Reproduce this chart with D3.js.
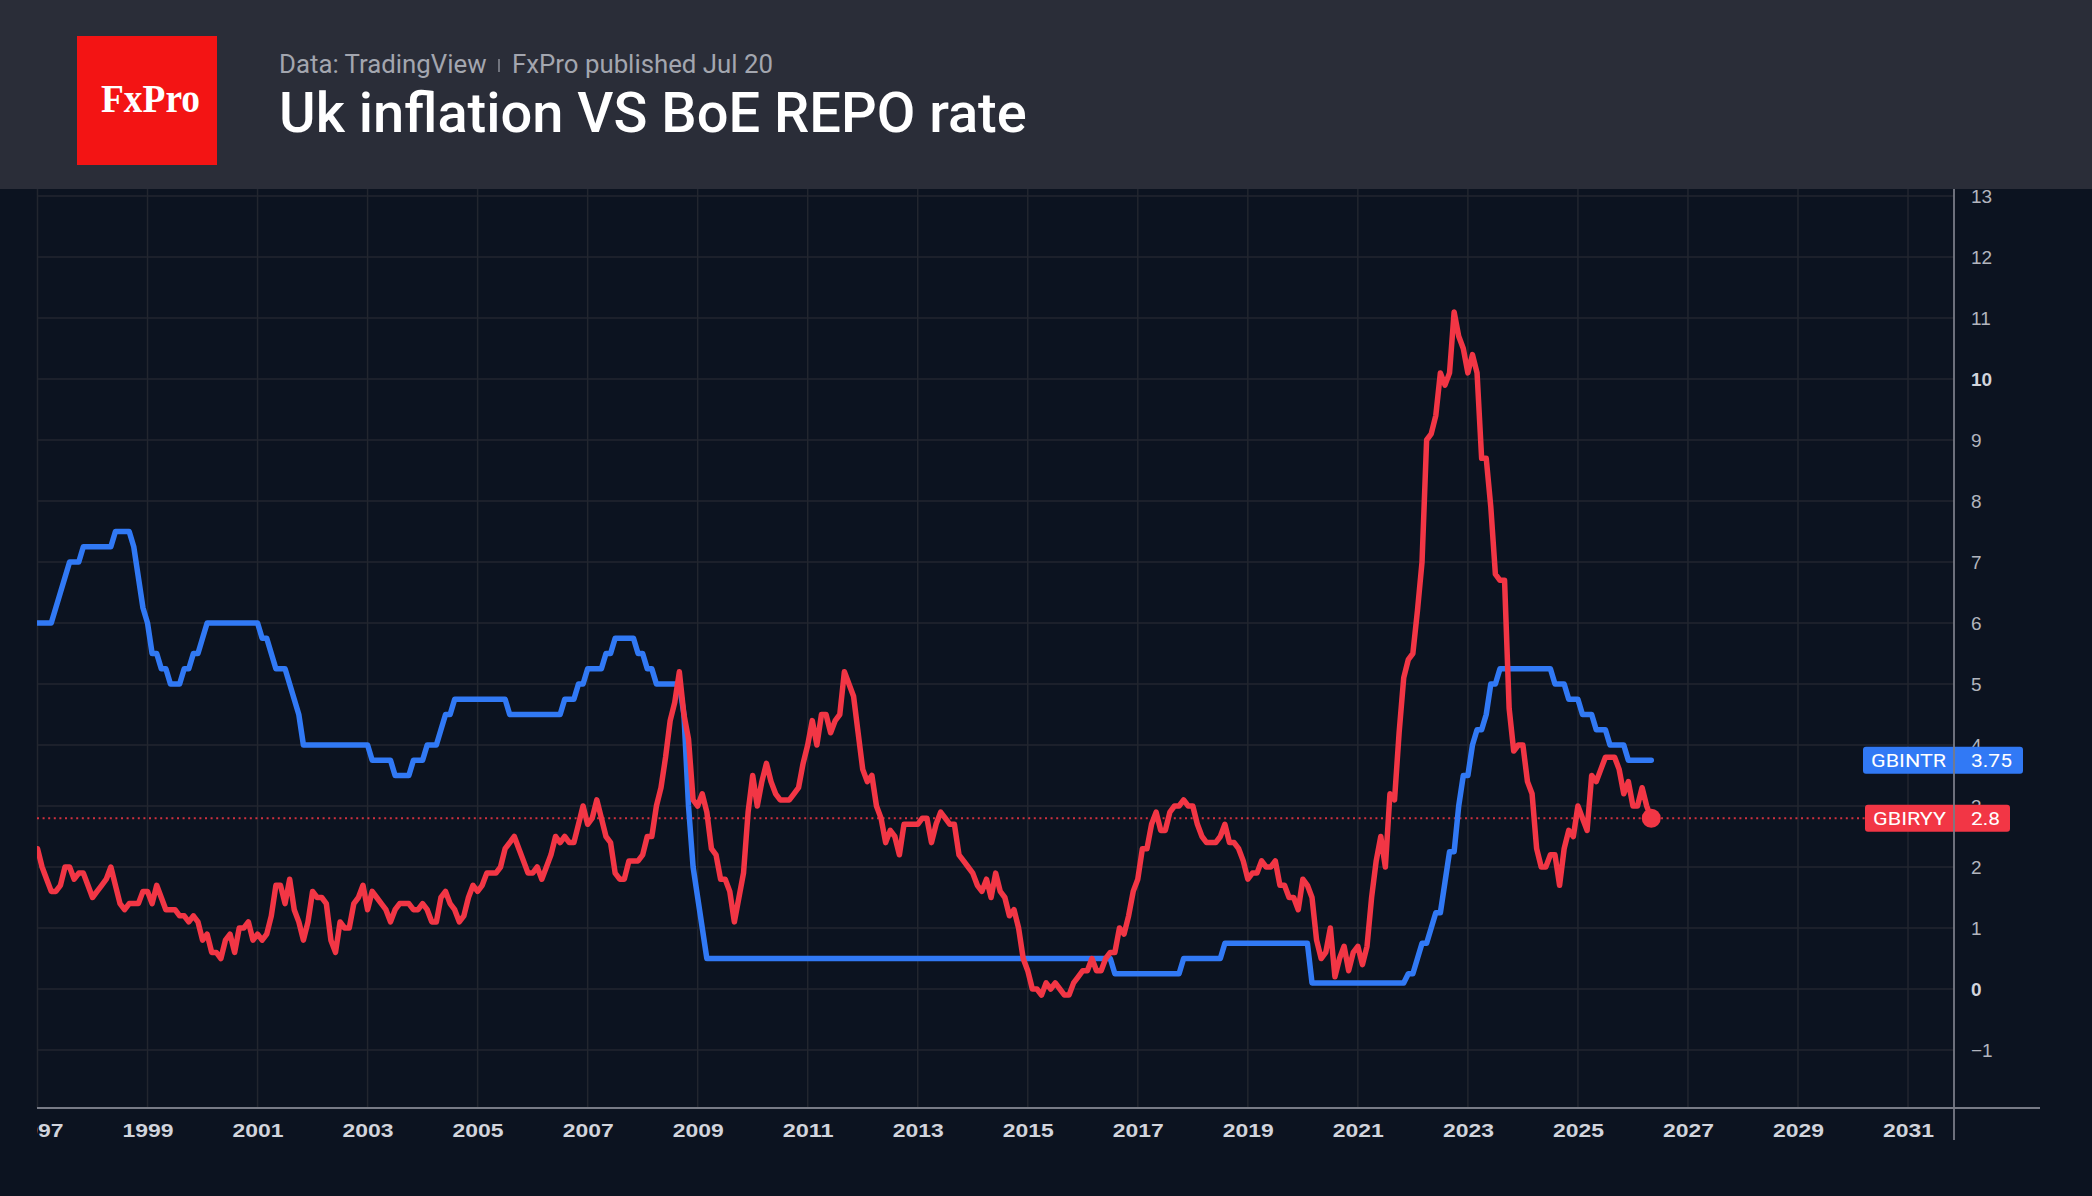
<!DOCTYPE html>
<html>
<head>
<meta charset="utf-8">
<script src="https://cdn.jsdelivr.net/npm/d3@7"></script>
<style>
  html, body { margin: 0; padding: 0; background: #0c1320; overflow: hidden; }
  svg { display: block; }
</style>
</head>
<body>
<script>
// monthly series, first value = Jan 1997
const startYear = 1997;

// BoE bank rate (GBINTR), one row per year
const boeRate = [
  6, 6, 6, 6, 6.25, 6.5, 6.75, 7, 7, 7, 7.25, 7.25,                 // 1997
  7.25, 7.25, 7.25, 7.25, 7.25, 7.5, 7.5, 7.5, 7.5, 7.25, 6.75, 6.25, // 1998
  6, 5.5, 5.5, 5.25, 5.25, 5, 5, 5, 5.25, 5.25, 5.5, 5.5,           // 1999
  5.75, 6, 6, 6, 6, 6, 6, 6, 6, 6, 6, 6,                            // 2000
  6, 5.75, 5.75, 5.5, 5.25, 5.25, 5.25, 5, 4.75, 4.5, 4, 4,         // 2001
  4, 4, 4, 4, 4, 4, 4, 4, 4, 4, 4, 4,                               // 2002
  4, 3.75, 3.75, 3.75, 3.75, 3.75, 3.5, 3.5, 3.5, 3.5, 3.75, 3.75,  // 2003
  3.75, 4, 4, 4, 4.25, 4.5, 4.5, 4.75, 4.75, 4.75, 4.75, 4.75,      // 2004
  4.75, 4.75, 4.75, 4.75, 4.75, 4.75, 4.75, 4.5, 4.5, 4.5, 4.5, 4.5, // 2005
  4.5, 4.5, 4.5, 4.5, 4.5, 4.5, 4.5, 4.75, 4.75, 4.75, 5, 5,        // 2006
  5.25, 5.25, 5.25, 5.25, 5.5, 5.5, 5.75, 5.75, 5.75, 5.75, 5.75, 5.5, // 2007
  5.5, 5.25, 5.25, 5, 5, 5, 5, 5, 5, 4.5, 3, 2,                     // 2008
  1.5, 1, 0.5, 0.5, 0.5, 0.5, 0.5, 0.5, 0.5, 0.5, 0.5, 0.5,         // 2009
  0.5, 0.5, 0.5, 0.5, 0.5, 0.5, 0.5, 0.5, 0.5, 0.5, 0.5, 0.5,       // 2010
  0.5, 0.5, 0.5, 0.5, 0.5, 0.5, 0.5, 0.5, 0.5, 0.5, 0.5, 0.5,       // 2011
  0.5, 0.5, 0.5, 0.5, 0.5, 0.5, 0.5, 0.5, 0.5, 0.5, 0.5, 0.5,       // 2012
  0.5, 0.5, 0.5, 0.5, 0.5, 0.5, 0.5, 0.5, 0.5, 0.5, 0.5, 0.5,       // 2013
  0.5, 0.5, 0.5, 0.5, 0.5, 0.5, 0.5, 0.5, 0.5, 0.5, 0.5, 0.5,       // 2014
  0.5, 0.5, 0.5, 0.5, 0.5, 0.5, 0.5, 0.5, 0.5, 0.5, 0.5, 0.5,       // 2015
  0.5, 0.5, 0.5, 0.5, 0.5, 0.5, 0.5, 0.25, 0.25, 0.25, 0.25, 0.25,  // 2016
  0.25, 0.25, 0.25, 0.25, 0.25, 0.25, 0.25, 0.25, 0.25, 0.25, 0.5, 0.5, // 2017
  0.5, 0.5, 0.5, 0.5, 0.5, 0.5, 0.5, 0.75, 0.75, 0.75, 0.75, 0.75,  // 2018
  0.75, 0.75, 0.75, 0.75, 0.75, 0.75, 0.75, 0.75, 0.75, 0.75, 0.75, 0.75, // 2019
  0.75, 0.75, 0.1, 0.1, 0.1, 0.1, 0.1, 0.1, 0.1, 0.1, 0.1, 0.1,     // 2020
  0.1, 0.1, 0.1, 0.1, 0.1, 0.1, 0.1, 0.1, 0.1, 0.1, 0.1, 0.25,      // 2021
  0.25, 0.5, 0.75, 0.75, 1, 1.25, 1.25, 1.75, 2.25, 2.25, 3, 3.5,   // 2022
  3.5, 4, 4.25, 4.25, 4.5, 5, 5, 5.25, 5.25, 5.25, 5.25, 5.25,      // 2023
  5.25, 5.25, 5.25, 5.25, 5.25, 5.25, 5.25, 5, 5, 5, 4.75, 4.75,    // 2024
  4.75, 4.5, 4.5, 4.5, 4.25, 4.25, 4.25, 4, 4, 4, 4, 3.75,          // 2025
  3.75, 3.75, 3.75, 3.75, 3.75                                      // 2026
];

// UK CPI y/y (GBIRYY), one row per year
const ukCpi = [
  2.3, 2.0, 1.8, 1.6, 1.6, 1.7, 2.0, 2.0, 1.8, 1.9, 1.9, 1.7,       // 1997
  1.5, 1.6, 1.7, 1.8, 2.0, 1.7, 1.4, 1.3, 1.4, 1.4, 1.4, 1.6,       // 1998
  1.6, 1.4, 1.7, 1.5, 1.3, 1.3, 1.3, 1.2, 1.2, 1.1, 1.2, 1.1,       // 1999
  0.8, 0.9, 0.6, 0.6, 0.5, 0.8, 0.9, 0.6, 1.0, 1.0, 1.1, 0.8,       // 2000
  0.9, 0.8, 0.9, 1.2, 1.7, 1.7, 1.4, 1.8, 1.3, 1.1, 0.8, 1.1,       // 2001
  1.6, 1.5, 1.5, 1.4, 0.8, 0.6, 1.1, 1.0, 1.0, 1.4, 1.5, 1.7,       // 2002
  1.3, 1.6, 1.5, 1.4, 1.3, 1.1, 1.3, 1.4, 1.4, 1.4, 1.3, 1.3,       // 2003
  1.4, 1.3, 1.1, 1.1, 1.5, 1.6, 1.4, 1.3, 1.1, 1.2, 1.5, 1.7,       // 2004
  1.6, 1.7, 1.9, 1.9, 1.9, 2.0, 2.3, 2.4, 2.5, 2.3, 2.1, 1.9,       // 2005
  1.9, 2.0, 1.8, 2.0, 2.2, 2.5, 2.4, 2.5, 2.4, 2.4, 2.7, 3.0,       // 2006
  2.7, 2.8, 3.1, 2.8, 2.5, 2.4, 1.9, 1.8, 1.8, 2.1, 2.1, 2.1,       // 2007
  2.2, 2.5, 2.5, 3.0, 3.3, 3.8, 4.4, 4.7, 5.2, 4.5, 4.1, 3.1,       // 2008
  3.0, 3.2, 2.9, 2.3, 2.2, 1.8, 1.8, 1.6, 1.1, 1.5, 1.9, 2.9,       // 2009
  3.5, 3.0, 3.4, 3.7, 3.4, 3.2, 3.1, 3.1, 3.1, 3.2, 3.3, 3.7,       // 2010
  4.0, 4.4, 4.0, 4.5, 4.5, 4.2, 4.4, 4.5, 5.2, 5.0, 4.8, 4.2,       // 2011
  3.6, 3.4, 3.5, 3.0, 2.8, 2.4, 2.6, 2.5, 2.2, 2.7, 2.7, 2.7,       // 2012
  2.7, 2.8, 2.8, 2.4, 2.7, 2.9, 2.8, 2.7, 2.7, 2.2, 2.1, 2.0,       // 2013
  1.9, 1.7, 1.6, 1.8, 1.5, 1.9, 1.6, 1.5, 1.2, 1.3, 1.0, 0.5,       // 2014
  0.3, 0.0, 0.0, -0.1, 0.1, 0.0, 0.1, 0.0, -0.1, -0.1, 0.1, 0.2,    // 2015
  0.3, 0.3, 0.5, 0.3, 0.3, 0.5, 0.6, 0.6, 1.0, 0.9, 1.2, 1.6,       // 2016
  1.8, 2.3, 2.3, 2.7, 2.9, 2.6, 2.6, 2.9, 3.0, 3.0, 3.1, 3.0,       // 2017
  3.0, 2.7, 2.5, 2.4, 2.4, 2.4, 2.5, 2.7, 2.4, 2.4, 2.3, 2.1,       // 2018
  1.8, 1.9, 1.9, 2.1, 2.0, 2.0, 2.1, 1.7, 1.7, 1.5, 1.5, 1.3,       // 2019
  1.8, 1.7, 1.5, 0.8, 0.5, 0.6, 1.0, 0.2, 0.5, 0.7, 0.3, 0.6,       // 2020
  0.7, 0.4, 0.7, 1.5, 2.1, 2.5, 2.0, 3.2, 3.1, 4.2, 5.1, 5.4,       // 2021
  5.5, 6.2, 7.0, 9.0, 9.1, 9.4, 10.1, 9.9, 10.1, 11.1, 10.7, 10.5,  // 2022
  10.1, 10.4, 10.1, 8.7, 8.7, 7.9, 6.8, 6.7, 6.7, 4.6, 3.9, 4.0,    // 2023
  4.0, 3.4, 3.2, 2.3, 2.0, 2.0, 2.2, 2.2, 1.7, 2.3, 2.6, 2.5,       // 2024
  3.0, 2.8, 2.6, 3.5, 3.4, 3.6, 3.8, 3.8, 3.8, 3.6, 3.2, 3.4,       // 2025
  3.0, 3.0, 3.3, 3.0, 2.8                                           // 2026
];

const yTicks = [-1, 0, 1, 2, 3, 4, 5, 6, 7, 8, 9, 10, 11, 12, 13];
const xTickYears = [1997, 1999, 2001, 2003, 2005, 2007, 2009, 2011, 2013, 2015,
                    2017, 2019, 2021, 2023, 2025, 2027, 2029, 2031];

const W = 2092, H = 1196;
const headerH = 189;
const plotLeft = 37, axisX = 1954, axisY = 1108;
const bg = '#0c1320', gridColor = '#22262f', axisColor = '#787b86';
const blue = '#3179f5', red = '#f23645';

const x = d3.scaleLinear().domain([1997, 2031]).range([37.5, 1908]);
const y = d3.scaleLinear().domain([0, 10]).range([989, 379]);

const toPoints = arr => arr.map((v, i) => ({ t: startYear + i / 12, v: v }));
const ratePts = toPoints(boeRate);
const cpiPts = toPoints(ukCpi);

const svg = d3.select('body').append('svg')
  .attr('width', W)
  .attr('height', H)
  .style('font-family', 'Roboto, sans-serif');

svg.append('rect').attr('width', W).attr('height', H).attr('fill', bg);

const defs = svg.append('defs');
defs.append('clipPath').attr('id', 'plot-clip')
  .append('rect')
  .attr('x', plotLeft).attr('y', headerH)
  .attr('width', axisX - plotLeft).attr('height', axisY - headerH);
defs.append('clipPath').attr('id', 'xlab-clip')
  .append('rect')
  .attr('x', plotLeft).attr('y', -20)
  .attr('width', axisX - plotLeft).attr('height', 80);

// grid
svg.append('g')
  .selectAll('line')
  .data(yTicks)
  .join('line')
  .attr('x1', plotLeft).attr('x2', axisX)
  .attr('y1', d => y(d)).attr('y2', d => y(d))
  .attr('stroke', gridColor).attr('stroke-width', 1.5);

svg.append('g')
  .selectAll('line')
  .data(xTickYears)
  .join('line')
  .attr('x1', d => x(d)).attr('x2', d => x(d))
  .attr('y1', headerH).attr('y2', axisY)
  .attr('stroke', gridColor).attr('stroke-width', 1.5);

// last-value dotted guide
const lastCpi = cpiPts[cpiPts.length - 1];
const lastRate = ratePts[ratePts.length - 1];
svg.append('line')
  .attr('x1', plotLeft).attr('x2', 1866)
  .attr('y1', y(lastCpi.v)).attr('y2', y(lastCpi.v))
  .attr('stroke', red).attr('stroke-width', 2)
  .attr('stroke-dasharray', '2 3.6')
  .attr('opacity', 0.85);

// series
const line = d3.line().x(d => x(d.t)).y(d => y(d.v));
const lines = svg.append('g').attr('clip-path', 'url(#plot-clip)');

lines.append('path')
  .datum(ratePts)
  .attr('d', line)
  .attr('fill', 'none')
  .attr('stroke', blue)
  .attr('stroke-width', 5.5)
  .attr('stroke-linejoin', 'round')
  .attr('stroke-linecap', 'round');

lines.append('path')
  .datum(cpiPts)
  .attr('d', line)
  .attr('fill', 'none')
  .attr('stroke', red)
  .attr('stroke-width', 5.5)
  .attr('stroke-linejoin', 'round')
  .attr('stroke-linecap', 'round');

svg.append('circle')
  .attr('cx', x(lastCpi.t)).attr('cy', y(lastCpi.v))
  .attr('r', 9.5)
  .attr('fill', red);

// x axis
const xAxis = svg.append('g')
  .attr('transform', `translate(0,${axisY})`)
  .attr('clip-path', 'url(#xlab-clip)')
  .call(d3.axisBottom(x).tickValues(xTickYears).tickFormat(d3.format('d')).tickSize(0).tickPadding(16));
xAxis.select('.domain').remove();
xAxis.selectAll('text')
  .attr('fill', '#d1d4dc')
  .attr('font-size', 18)
  .attr('font-weight', 700)
  .attr('textLength', 51)
  .attr('lengthAdjust', 'spacingAndGlyphs');

svg.append('line')
  .attr('x1', plotLeft).attr('x2', 2040)
  .attr('y1', axisY).attr('y2', axisY)
  .attr('stroke', axisColor).attr('stroke-width', 2);

// y axis labels
const yAxis = svg.append('g')
  .attr('transform', `translate(${axisX},0)`)
  .call(d3.axisRight(y).tickValues(yTicks).tickFormat(d => d < 0 ? '\u2212' + Math.abs(d) : d).tickSize(0).tickPadding(17));
yAxis.select('.domain').remove();
yAxis.selectAll('text')
  .attr('dy', '0.36em')
  .attr('font-size', 19)
  .attr('font-weight', d => (d === 0 || d === 10) ? 700 : 400)
  .attr('fill', d => (d === 0 || d === 10) ? '#d1d4dc' : '#b2b5be');

// last value tags (they sit over the 3 and 4 tick labels, as in the original)
const tags = [
  { name: 'GBINTR', value: lastRate.v.toFixed(2), v: lastRate.v, color: blue, x0: 1863, w: 160, nameW: 75, valW: 41 },
  { name: 'GBIRYY', value: lastCpi.v.toFixed(1), v: lastCpi.v, color: red, x0: 1865, w: 145, nameW: 73, valW: 29 }
];
const tag = svg.append('g').selectAll('g').data(tags).join('g')
  .attr('transform', d => `translate(0,${y(d.v)})`);
tag.append('rect')
  .attr('x', d => d.x0).attr('y', -13.5)
  .attr('width', d => d.w).attr('height', 27)
  .attr('rx', 3)
  .attr('fill', d => d.color);
tag.append('text')
  .attr('x', d => d.x0 + 8).attr('y', 7)
  .attr('font-size', 19).attr('fill', '#fff')
  .attr('textLength', d => d.nameW).attr('lengthAdjust', 'spacingAndGlyphs')
  .text(d => d.name);
tag.append('text')
  .attr('x', 1971).attr('y', 7)
  .attr('font-size', 19).attr('fill', '#fff')
  .attr('textLength', d => d.valW).attr('lengthAdjust', 'spacingAndGlyphs')
  .text(d => d.value);

svg.append('line')
  .attr('x1', axisX).attr('x2', axisX)
  .attr('y1', headerH).attr('y2', 1140)
  .attr('stroke', axisColor).attr('stroke-width', 2)
  .attr('opacity', 0.9);

// header
svg.append('rect').attr('width', W).attr('height', headerH).attr('fill', '#2a2d38');
svg.append('rect')
  .attr('x', 77).attr('y', 36).attr('width', 140).attr('height', 129)
  .attr('fill', '#f31414');
svg.append('text')
  .attr('x', 101).attr('y', 112)
  .attr('font-family', '"Liberation Serif", "Times New Roman", serif')
  .attr('font-size', 41)
  .attr('font-weight', 700)
  .attr('fill', '#fff')
  .attr('textLength', 99)
  .attr('lengthAdjust', 'spacingAndGlyphs')
  .text('FxPro');

svg.append('text')
  .attr('x', 279).attr('y', 73)
  .attr('font-size', 25.8)
  .attr('fill', '#a3a6af')
  .text('Data: TradingView');
svg.append('line')
  .attr('x1', 499).attr('x2', 499).attr('y1', 59).attr('y2', 72)
  .attr('stroke', '#8a8d96').attr('stroke-width', 1.5);
svg.append('text')
  .attr('x', 512).attr('y', 73)
  .attr('font-size', 25.8)
  .attr('fill', '#a3a6af')
  .text('FxPro published Jul 20');

svg.append('text')
  .attr('x', 279).attr('y', 132)
  .attr('font-size', 56)
  .attr('font-weight', 500)
  .attr('fill', '#fff')
  .text('Uk inflation VS BoE REPO rate');
</script>
</body>
</html>
